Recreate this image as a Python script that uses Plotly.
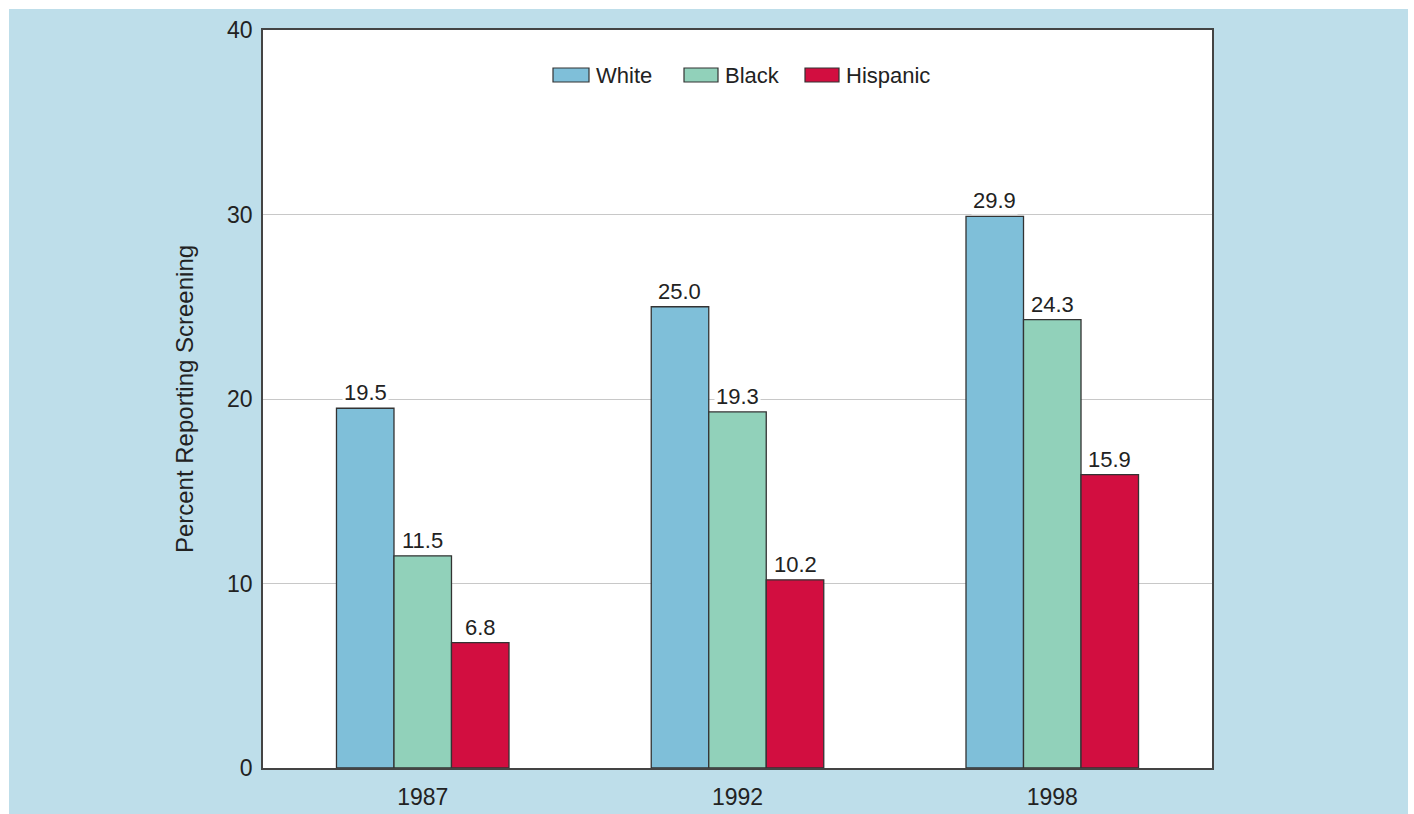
import plotly.graph_objects as go

years = ["1987", "1992", "1998"]
white = [19.5, 25.0, 29.9]
black = [11.5, 19.3, 24.3]
hispanic = [6.8, 10.2, 15.9]
series_names = ["White", "Black", "Hispanic"]
colors = ["#7FBFD9", "#91D1BA", "#D20E40"]
y_ticks = [0, 10, 20, 30, 40]

FONT = "Liberation Sans, Arial, Helvetica, sans-serif"
FS = 23
BG = "#BEDEEA"

# plot-area geometry in pixels (for paper-coordinate conversion)
L, R, T, B = 263, 1212, 30, 768
W_, H_ = R - L, B - T
def px(x):
    return (x - L) / W_
def py(y):
    return (B - y) / H_

BARW = 0.1827

fig = go.Figure()
for name, vals, col in zip(series_names, [white, black, hispanic], colors):
    fig.add_trace(go.Bar(
        x=years, y=vals, name=name, showlegend=False,
        marker=dict(color=col, line=dict(color="#333333", width=1.3)),
    ))

# value labels with white background (interrupting gridlines)
offsets = [-1, 0, 1]
for vals, off in zip([white, black, hispanic], offsets):
    for i, v in enumerate(vals):
        fig.add_annotation(
            x=i + off * BARW, y=v, xref="x", yref="y",
            text=f"{v:.1f}", showarrow=False, yanchor="bottom",
            yshift=1, bgcolor="white", borderpad=1,
            font=dict(size=FS - 1, color="#222222", family=FONT),
        )

# custom legend (larger swatches)
leg_sw = [(553, 589), (684, 718), (805, 839)]
for (x0, x1), name, col in zip(leg_sw, series_names, colors):
    fig.add_shape(type="rect", xref="paper", yref="paper",
                  x0=px(x0), x1=px(x1), y0=py(82), y1=py(68),
                  fillcolor=col, line=dict(color="#333333", width=1.2))
    fig.add_annotation(xref="paper", yref="paper", x=px(x1 + 5), y=py(75),
                       text=name, showarrow=False, xanchor="left", yanchor="middle",
                       font=dict(size=FS - 1, color="#222222", family=FONT))

# white strips framing the light-blue backdrop
for (x0, x1, y0, y1) in [(0, 1414, 0, 9), (0, 9, 0, 814), (1408, 1414, 0, 814)]:
    fig.add_shape(type="rect", xref="paper", yref="paper",
                  x0=px(x0), x1=px(x1), y0=py(y1), y1=py(y0),
                  fillcolor="white", line=dict(width=0), layer="below")

fig.update_layout(
    width=1414, height=814,
    margin=dict(l=L, r=1414 - R, t=T, b=814 - B, autoexpand=False),
    paper_bgcolor=BG, plot_bgcolor="white",
    barmode="group", bargap=1 - 3 * BARW, bargroupgap=0,
    font=dict(family=FONT, size=FS, color="#222222"),
    showlegend=False,
)
fig.update_xaxes(
    type="category", range=[-0.5075, 2.5075],
    showline=True, linecolor="#444444", linewidth=1.5,
    mirror=True, ticks="", tickfont=dict(size=FS), showgrid=False,
    ticklabelstandoff=8, automargin=False,
)
fig.update_yaxes(
    range=[0, 40], tickvals=y_ticks, showline=True, linecolor="#444444",
    linewidth=1.5, mirror=True, ticks="", showgrid=True, gridcolor="#C8C8C8",
    gridwidth=1, zeroline=False, tickfont=dict(size=FS), ticklabelstandoff=4,
    automargin=False,
    title=dict(text="Percent Reporting Screening", font=dict(size=FS + 1), standoff=27),
)

fig.write_html("out.html")
